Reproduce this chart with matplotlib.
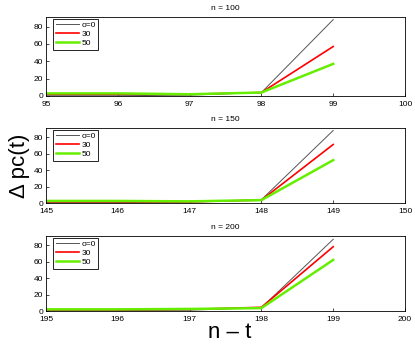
import numpy as np
import matplotlib
matplotlib.use("Agg")
import matplotlib.pyplot as plt

plt.rcParams['font.family'] = ['Liberation Sans', 'DejaVu Sans']

# values
n_values = [100, 150, 200]
labels = ["o=0", "30", "50"]
offsets = [0, 1, 2, 3, 4]  # steps before n

o0 = [[0.3, 0.3, 1.0, 4.0, 88],
      [0.5, 0.5, 1.0, 4.0, 88],
      [0.5, 0.5, 1.0, 4.0, 87]]
o30 = [[2.0, 2.0, 2.0, 4.0, 57],
       [1.5, 1.5, 1.5, 3.5, 71],
       [1.5, 1.5, 2.0, 4.5, 78]]
o50 = [[3.0, 3.0, 2.0, 4.0, 37],
       [2.5, 2.5, 2.0, 3.5, 52],
       [2.0, 2.0, 2.5, 3.5, 62]]

colors = ["#555555", "#ff0000", "#66ee00"]
widths = [0.7, 1.2, 1.8]

fig = plt.figure(figsize=(4.15, 3.46), dpi=100)
tops = [17, 128, 236]
bottoms = [96, 203, 311]
W, H = 415.0, 346.0

for i, n in enumerate(n_values):
    ax = fig.add_axes([46 / W, 1 - bottoms[i] / H, (405 - 46) / W, (bottoms[i] - tops[i]) / H])
    x = [n - 5 + k for k in offsets]
    for series, c, lw, lab in zip([o0, o30, o50], colors, widths, labels):
        ax.plot(x, series[i], color=c, lw=lw, label=lab)
    ax.set_xlim(n - 5, n)
    ax.set_ylim(0, 91)
    ax.set_yticks([0, 20, 40, 60, 80])
    ax.set_xticks(range(n - 5, n + 1))
    ax.tick_params(labelsize=6, direction="in", length=2, width=0.5)
    ax.tick_params(axis="x", pad=3.5)
    ax.tick_params(axis="y", pad=2)
    for s in ax.spines.values():
        s.set_linewidth(0.6)
    ax.set_title(f"n = {n}", fontsize=6, pad=5)
    leg = ax.legend(loc="upper left", bbox_to_anchor=(0.02, 0.98), fontsize=6,
                    handlelength=2.8, handletextpad=0.3, borderpad=0.3,
                    labelspacing=0.15, fancybox=False, framealpha=1, borderaxespad=0)
    leg.get_frame().set_edgecolor("black")
    leg.get_frame().set_linewidth(0.6)

fig.text(19 / W, 1 - 166 / H, "Δ pc(t)", rotation=90, fontsize=16, ha="center", va="center")
fig.text(230 / W, 1 - 333 / H, "n – t", fontsize=16, ha="center", va="center")

fig.savefig("out.png", dpi=100)
